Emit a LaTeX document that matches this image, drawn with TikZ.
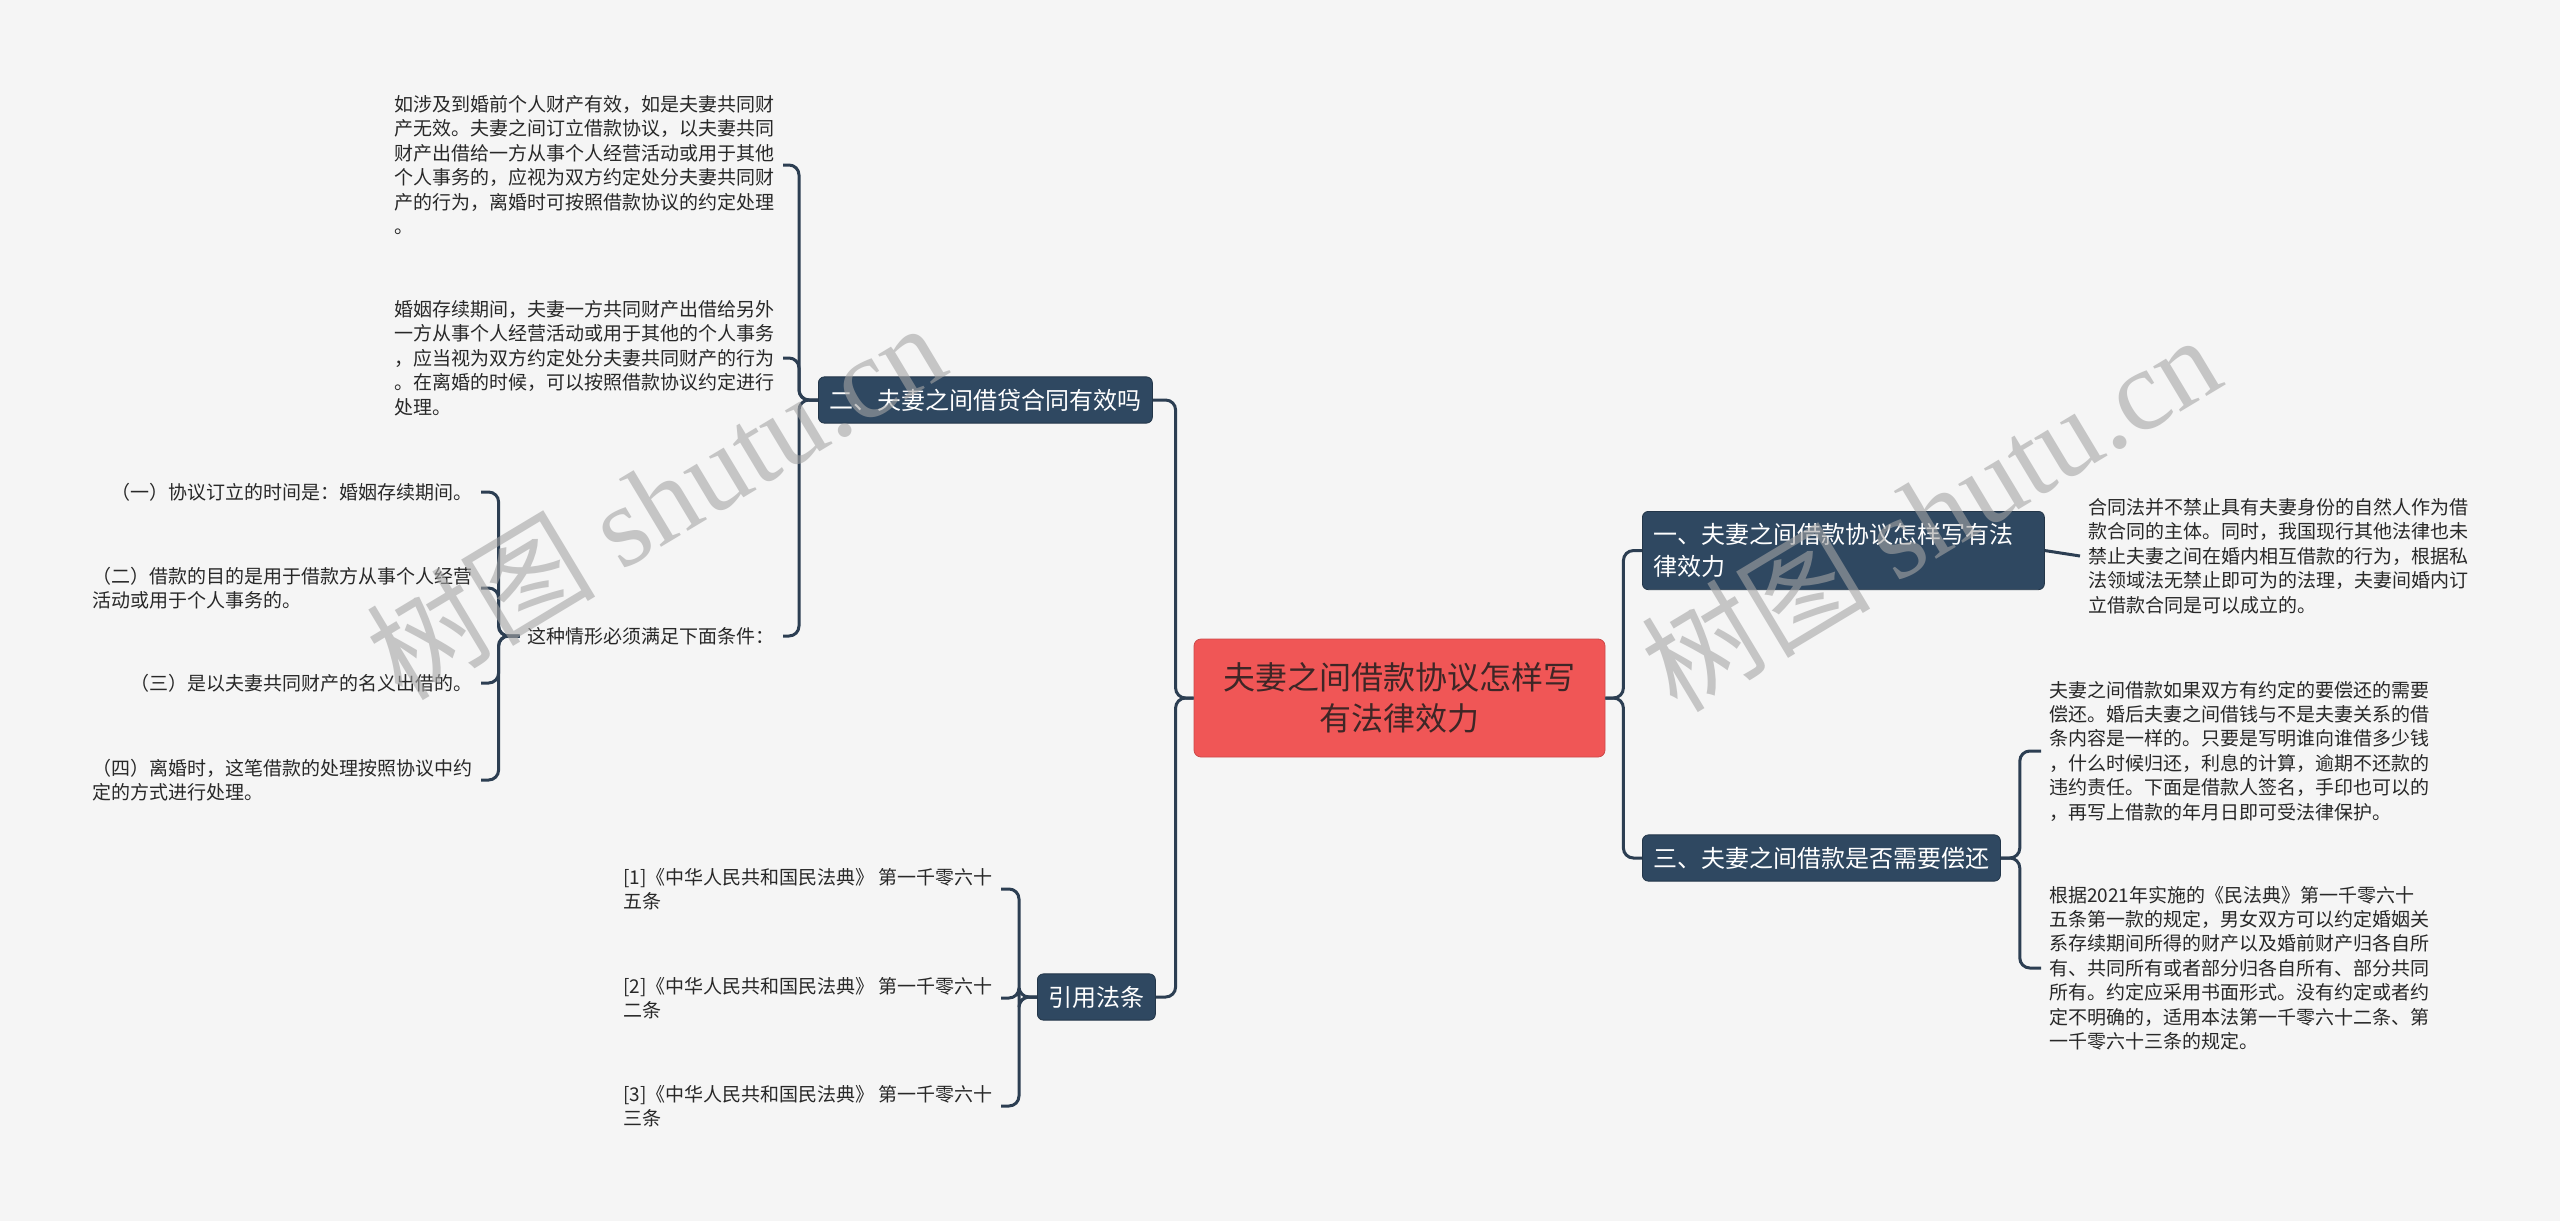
\documentclass[tikz,border=0pt]{standalone}
\usepackage{fontspec}
\setmainfont{Noto Sans CJK SC}
\newfontfamily\marklatin{Liberation Serif}
\usetikzlibrary{positioning}

\definecolor{paper}{RGB}{245,245,245}
\definecolor{topicblue}{RGB}{47,72,97}
\definecolor{linkblue}{RGB}{44,62,82}
\definecolor{rootred}{RGB}{240,86,86}
\definecolor{rootink}{RGB}{62,38,38}
\definecolor{leafink}{RGB}{40,40,40}
\definecolor{markgray}{RGB}{165,165,165}

\tikzset{
	rootbox/.style={rectangle, rounded corners=7pt, fill=rootred, draw=rootred!85!black, line width=0.8pt,
		text=rootink, align=center, minimum width=411pt, minimum height=118pt,
		font=\fontsize{32}{41}\selectfont},
	topic/.style={rectangle, rounded corners=6pt, fill=topicblue, draw=topicblue!75!black, line width=0.8pt,
		text=white, align=left, inner xsep=11pt, inner ysep=12pt, font=\fontsize{24}{32}\selectfont},
	leaf/.style={align=left, inner xsep=8pt, inner ysep=3pt, text=leafink, font=\fontsize{19}{24.4}\selectfont},
	branch/.style={draw=linkblue, line width=3pt, rounded corners=10pt},
	watermark/.style={text=markgray, opacity=0.6, rotate=31, font=\fontsize{115}{115}\selectfont}
}

\begin{document}
\begin{tikzpicture}[x=1pt, y=-1pt]
	\fill[paper] (0,0) rectangle (2560,1221);

	% centre and main topics
	\node[rootbox] (root) at (1399.5,698) {夫妻之间借款协议怎样写\\有法律效力};
	\node[topic, anchor=west] (loanValid) at (818,400) {二、夫妻之间借贷合同有效吗};
	\node[topic, anchor=west] (lawRef) at (1037,997) {引用法条};
	\node[topic, anchor=north west, text width=380pt] (howWrite) at (1642,511) {一、夫妻之间借款协议怎样写有法\\律效力};
	\node[topic, anchor=west] (repay) at (1642,858) {三、夫妻之间借款是否需要偿还};

	% left branch: loan contract valid?
	\node[leaf, anchor=east] (validA) at (783,165) {如涉及到婚前个人财产有效，如是夫妻共同财\\产无效。夫妻之间订立借款协议，以夫妻共同\\财产出借给一方从事个人经营活动或用于其他\\个人事务的，应视为双方约定处分夫妻共同财\\产的行为，离婚时可按照借款协议的约定处理\\。};
	\node[leaf, anchor=east] (validB) at (783,358) {婚姻存续期间，夫妻一方共同财产出借给另外\\一方从事个人经营活动或用于其他的个人事务\\，应当视为双方约定处分夫妻共同财产的行为\\。在离婚的时候，可以按照借款协议约定进行\\处理。};
	\node[leaf, anchor=east] (terms) at (783,636) {这种情形必须满足下面条件：};
	\node[leaf, anchor=east] (termA) at (481,492) {（一）协议订立的时间是：婚姻存续期间。};
	\node[leaf, anchor=east] (termB) at (481,588) {（二）借款的目的是用于借款方从事个人经营\\活动或用于个人事务的。};
	\node[leaf, anchor=east] (termC) at (481,683) {（三）是以夫妻共同财产的名义出借的。};
	\node[leaf, anchor=east] (termD) at (481,780) {（四）离婚时，这笔借款的处理按照协议中约\\定的方式进行处理。};

	% left branch: cited articles
	\node[leaf, anchor=east] (artA) at (1001,889) {[1]《中华人民共和国民法典》 第一千零六十\\五条};
	\node[leaf, anchor=east] (artB) at (1001,998) {[2]《中华人民共和国民法典》 第一千零六十\\二条};
	\node[leaf, anchor=east] (artC) at (1001,1106) {[3]《中华人民共和国民法典》 第一千零六十\\三条};

	% right branches
	\node[leaf, anchor=west] (howText) at (2080,556) {合同法并不禁止具有夫妻身份的自然人作为借\\款合同的主体。同时，我国现行其他法律也未\\禁止夫妻之间在婚内相互借款的行为，根据私\\法领域法无禁止即可为的法理，夫妻间婚内订\\立借款合同是可以成立的。};
	\node[leaf, anchor=west] (repayA) at (2041,751) {夫妻之间借款如果双方有约定的要偿还的需要\\偿还。婚后夫妻之间借钱与不是夫妻关系的借\\条内容是一样的。只要是写明谁向谁借多少钱\\，什么时候归还，利息的计算，逾期不还款的\\违约责任。下面是借款人签名，手印也可以的\\，再写上借款的年月日即可受法律保护。};
	\node[leaf, anchor=west] (repayB) at (2041,968) {根据2021年实施的《民法典》第一千零六十\\五条第一款的规定，男女双方可以约定婚姻关\\系存续期间所得的财产以及婚前财产归各自所\\有、共同所有或者部分归各自所有、部分共同\\所有。约定应采用书面形式。没有约定或者约\\定不明确的，适用本法第一千零六十二条、第\\一千零六十三条的规定。};

	% connectors
	\draw[branch] (root.west) -- ++(-18,0) |- (loanValid.east);
	\draw[branch] (root.west) -- ++(-18,0) |- (lawRef.east);
	\draw[branch] (root.east) -- ++(18,0) |- (howWrite.west);
	\draw[branch] (root.east) -- ++(18,0) |- (repay.west);
	\foreach \kid in {validA, validB, terms}
		\draw[branch] (loanValid.west) -- ++(-19,0) |- (\kid.east);
	\foreach \kid in {termA, termB, termC, termD}
		\draw[branch] (terms.west) -- ++(-21,0) |- (\kid.east);
	\foreach \kid in {artA, artB, artC}
		\draw[branch] (lawRef.west) -- ++(-18,0) |- (\kid.east);
	\draw[branch] (howWrite.east) -- (howText.west);
	\foreach \kid in {repayA, repayB}
		\draw[branch] (repay.east) -- ++(19,0) |- (\kid.west);

	% watermarks
	\node[watermark] (markLeft) at (655,500) {树图 {\marklatin shutu.cn}};
	\node[watermark] (markRight) at (1930,512) {树图 {\marklatin shutu.cn}};
\end{tikzpicture}
\end{document}
